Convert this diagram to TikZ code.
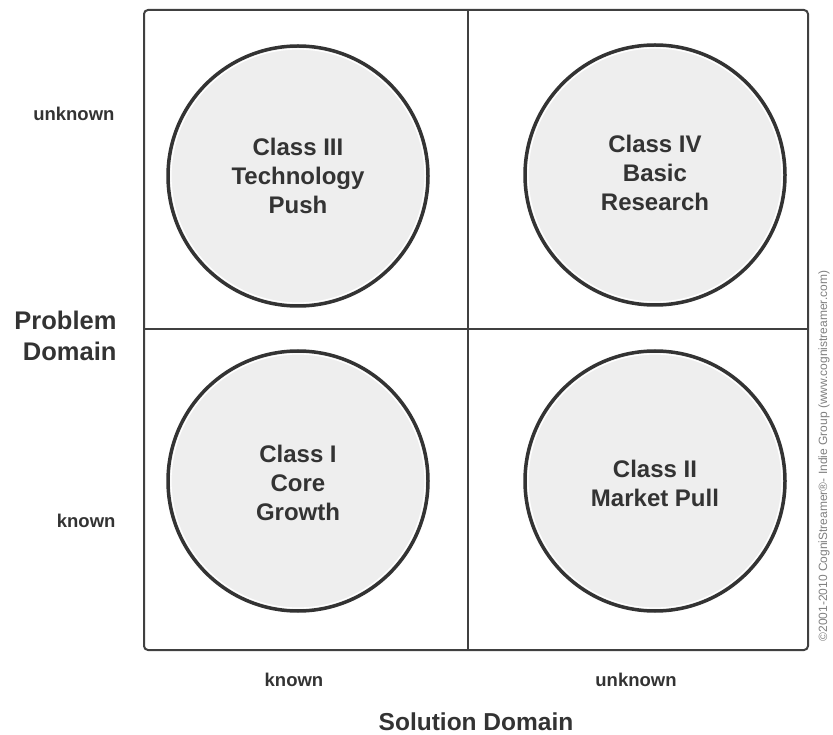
\documentclass[tikz,border=0pt]{standalone}
\usepackage{fontspec}
\setmainfont{Liberation Sans}
\definecolor{ink}{HTML}{333333}
\definecolor{line}{HTML}{404040}
\definecolor{cfill}{HTML}{EEEEEE}
\begin{document}
\begin{tikzpicture}[x=1pt,y=-1pt,
  lbl/.style={text=ink,font=\bfseries\fontsize{18.5}{22}\selectfont},
  ctext/.style={text=ink,font=\bfseries\fontsize{24}{29}\selectfont,align=center},
  cls/.style={circle,draw=ink,line width=3.5pt,fill=cfill,minimum size=260pt,inner sep=0pt},
]
\useasboundingbox (0,0) rectangle (833,735);
\node (box) [draw=line,line width=2pt,rounded corners=4pt,minimum width=664pt,minimum height=640pt,inner sep=0pt] at (476,330) {};
\coordinate (vt) at (468,10);
\coordinate (vb) at (468,650);
\coordinate (hl) at (144,329);
\coordinate (hr) at (808,329);
\draw[line,line width=2.5pt] (vt) -- (vb);
\draw[line,line width=2.5pt] (hl) -- (hr);
\foreach \n/\x/\y in {c3/298/176,c4/655/175,c1/298/481,c2/655/481}{
  \node (\n) [cls] at (\x,\y) {};
  \draw[white,line width=1.2pt] (\n.center) circle (127pt);
}
\node[ctext] at (298,176) {Class III\\Technology\\Push};
\node[ctext] at (655,173) {Class IV\\Basic\\Research};
\node[ctext] at (298,483) {Class I\\Core\\Growth};
\node[ctext] at (655,483) {Class II\\Market Pull};
\node (pu) [lbl,anchor=east] at (118,114) {unknown};
\node (pk) [lbl,anchor=east] at (119,521) {known};
\node (pd) [text=ink,font=\bfseries\fontsize{25.5}{31}\selectfont,align=right,anchor=east] at (120,336) {Problem\\Domain};
\node (sk) [lbl] at (294,680) {known};
\node (su) [lbl] at (636,680) {unknown};
\node (sd) [text=ink,font=\bfseries\fontsize{24.5}{28}\selectfont] at (476,722) {Solution Domain};
\node (copy) [text=gray,font=\fontsize{12}{14}\selectfont,rotate=90] at (824,456) {©2001-2010 CogniStreamer®- Indie Group (www.cognistreamer.com)};
\end{tikzpicture}
\end{document}
